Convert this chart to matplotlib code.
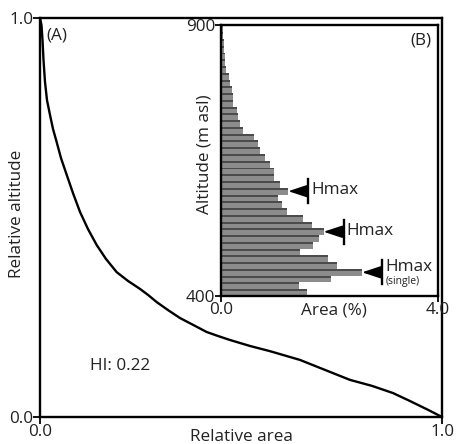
import numpy as np
import matplotlib
matplotlib.use("Agg")
import matplotlib.pyplot as plt

plt.rcParams['font.family'] = ['Open Sans', 'DejaVu Sans']

# ---- Panel A: hypsometric curve ----
rel_area = [0.0, 0.0037, 0.0062, 0.0087, 0.0124, 0.0174, 0.0249, 0.0323, 0.0415,
            0.0522, 0.0664, 0.0821, 0.0995, 0.1194, 0.1410, 0.1642, 0.1908, 0.2189,
            0.2488, 0.2687, 0.2903, 0.3184, 0.3483, 0.3806, 0.4147, 0.4428, 0.4726,
            0.5224, 0.5721, 0.6468, 0.7090, 0.7711, 0.8259, 0.8781, 0.9204, 0.9652, 1.0]
rel_alt = [1.0, 0.982, 0.945, 0.895, 0.840, 0.794, 0.757, 0.722, 0.689,
           0.649, 0.607, 0.561, 0.514, 0.471, 0.431, 0.396, 0.363, 0.341,
           0.321, 0.306, 0.288, 0.268, 0.248, 0.231, 0.213, 0.203, 0.193,
           0.178, 0.165, 0.143, 0.118, 0.093, 0.078, 0.060, 0.040, 0.018, 0.0]
hi_text = "HI: 0.22"

# ---- Panel B: altitude histogram (bottom to top, 12.5 m bins from 400 m) ----
bin_width = 12.5
area_pct = [1.59, 1.43, 2.02, 2.60, 2.14, 1.98, 1.46, 1.70, 1.80, 1.89,
            1.68, 1.52, 1.22, 1.12, 1.05, 1.24, 1.09, 0.97, 0.97, 0.91,
            0.81, 0.72, 0.69, 0.60, 0.41, 0.35, 0.32, 0.29, 0.23, 0.23,
            0.20, 0.17, 0.14, 0.10, 0.08, 0.07, 0.06, 0.05, 0.04, 0.04]
bin_bottoms = 400 + bin_width * np.arange(len(area_pct))
hmax_bins = [15, 9, 3]  # indices of marked bars
hmax_labels = ["Hmax", "Hmax", "Hmax"]
hmax_sub = [None, None, "(single)"]

W, H = 458, 444
fig = plt.figure(figsize=(W / 100, H / 100), dpi=100)
TXT = '#222222'
FS = 12.3

def px_axes(l, t, r, b):
    return fig.add_axes([l / W, (H - b) / H, (r - l) / W, (b - t) / H])

ax = px_axes(40, 18, 442, 417)
ax.plot(rel_area, rel_alt, color='black', lw=1.7, solid_joinstyle='round')
ax.set_xlim(0, 1)
ax.set_ylim(0, 1)
ax.set_xticks([0, 1])
ax.set_yticks([0, 1])
ax.set_xticklabels(["0.0", "1.0"])
ax.set_yticklabels(["0.0", "1.0"])
for s in ax.spines.values():
    s.set_linewidth(1.7)
ax.tick_params(length=5, width=1.3, labelsize=FS, pad=0, color='black', labelcolor=TXT)
ax.text(0.5, -0.05, "Relative area", transform=ax.transAxes, ha='center', va='center',
        fontsize=FS, color=TXT)
ax.text(-0.057, 0.51, "Relative altitude", transform=ax.transAxes, ha='center', va='center',
        rotation=90, fontsize=FS, color=TXT)
ax.text(0.016, 0.956, "(A)", transform=ax.transAxes, ha='left', va='center',
        fontsize=FS, color=TXT)
ax.text(0.124, 0.127, hi_text, transform=ax.transAxes, ha='left', va='center',
        fontsize=FS, color=TXT)

# inset
ia = px_axes(221, 25.5, 438, 296)
vals = np.array(area_pct)
ia.barh(bin_bottoms, vals, height=bin_width, align='edge', color='#8c8c8c', lw=0)
strip = 3.6
ia.barh(bin_bottoms + bin_width - strip, vals, height=strip, align='edge',
        color='#4b4b4b', lw=0)
ia.set_xlim(0, 4)
ia.set_ylim(400, 900)
ia.set_xticks([0, 4])
ia.set_xticklabels(["0.0", "4.0"])
ia.set_yticks([400, 900])
ia.set_yticklabels(["400", "900"])
for s in ia.spines.values():
    s.set_linewidth(1.7)
ia.tick_params(length=4, width=1.3, labelsize=FS, pad=0, color='black', labelcolor=TXT)
ia.text(0.52, -0.055, "Area (%)", transform=ia.transAxes, ha='center', va='center',
        fontsize=FS, color=TXT)
ia.text(-0.078, 0.525, "Altitude (m asl)", transform=ia.transAxes, ha='center', va='center',
        rotation=90, fontsize=FS, color=TXT)
ia.text(0.97, 0.943, "(B)", transform=ia.transAxes, ha='right', va='center',
        fontsize=FS, color=TXT)

for idx, lab, sub in zip(hmax_bins, hmax_labels, hmax_sub):
    v = area_pct[idx]
    yc = bin_bottoms[idx] + bin_width / 2
    ia.annotate('', xy=(v, yc), xytext=(v + 0.36, yc),
                arrowprops=dict(arrowstyle='-|>,head_length=1.15,head_width=0.38',
                                color='black', lw=1.3, shrinkA=0, shrinkB=0))
    ia.plot([v + 0.37, v + 0.37], [yc - 22, yc + 22], color='black', lw=1.7)
    if sub is None:
        ia.text(v + 0.43, yc + 2, lab, ha='left', va='center', fontsize=FS, color=TXT)
    else:
        ia.text(v + 0.43, yc + 10, lab, ha='left', va='center', fontsize=FS, color=TXT)
        ia.text(v + 0.43, yc - 17, sub, ha='left', va='center', fontsize=7.5, color=TXT)

fig.savefig("out.png", dpi=100)
